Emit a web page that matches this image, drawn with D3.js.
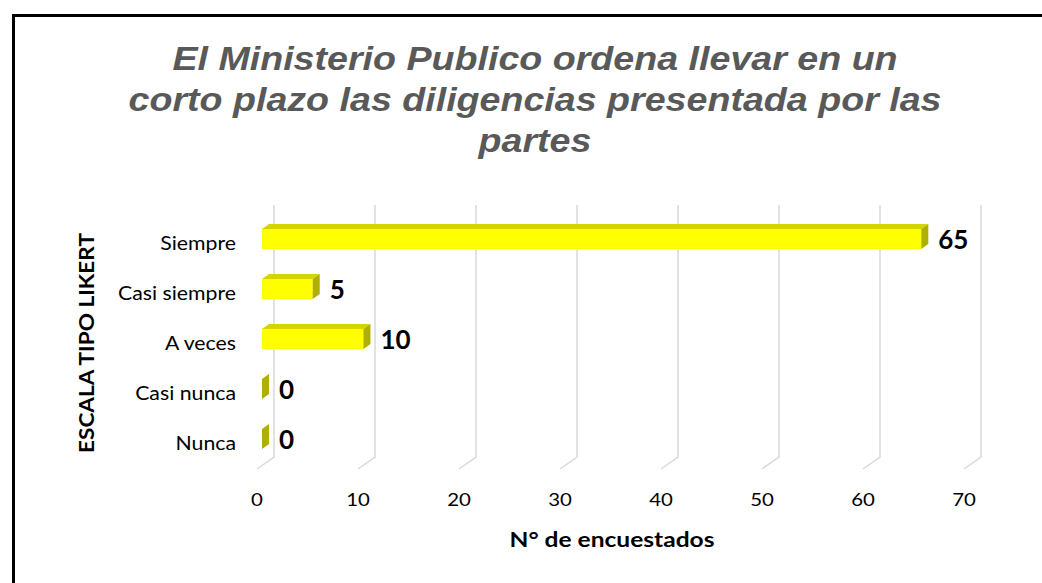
<!DOCTYPE html>
<html><head><meta charset="utf-8">
<script src="https://cdn.jsdelivr.net/npm/d3@7"></script>
<style>body{margin:0;background:#fff}svg{display:block}</style>
</head><body><svg id="c" width="1042" height="583"></svg>
<script>
const categories = ["Siempre","Casi siempre","A veces","Casi nunca","Nunca"];
const values = [65,5,10,0,0];
const ticks = [0,10,20,30,40,50,60,70];
const titleLines = ["El Ministerio Publico ordena llevar en un","corto plazo las diligencias presentada por las","partes"];
const yTitle = "ESCALA TIPO LIKERT";
const xTitle = "N° de encuestados";

const svg = d3.select("#c");
const F = "Lato, 'Open Sans', sans-serif";
// frame
svg.append("rect").attr("x",13.5).attr("y",15.5).attr("width",1040).attr("height",580)
  .attr("fill","#fff").attr("stroke","#000").attr("stroke-width",3);

// title
svg.append("g").selectAll("text").data(titleLines).join("text")
  .attr("transform",(d,i)=>`translate(535,${70+i*41}) scale(1.14,1)`).attr("text-anchor","middle")
  .attr("font-family","'Liberation Sans', Arial, sans-serif").attr("font-weight","bold")
  .attr("font-style","italic").attr("font-size",33).attr("fill","#595959").text(d=>d);

// scales
const xBack = d3.scaleLinear().domain([0,70]).range([274,981]);
const xBar = d3.scaleLinear().domain([0,70]).range([262,972]);
const y = d3.scaleBand().domain(categories).range([214,464]).paddingInner(0.6).paddingOuter(0.3);
const fdx = -17, fdy = 12, gTop = 205, gBot = 457;
const bdx = 7, bdy = -5;

// gridlines
const grid = svg.append("g").attr("fill","none").attr("stroke","#d9d9d9").attr("stroke-width",1.5);
grid.selectAll("path").data(ticks).join("path")
  .attr("d",d=>`M${xBack(d)},${gTop}L${xBack(d)},${gBot}L${xBack(d)+fdx},${gBot+fdy}`);

// tick labels
svg.append("g").selectAll("text").data(ticks).join("text")
  .attr("transform",d=>`translate(${xBack(d)+fdx},506) scale(1.2,1)`).attr("text-anchor","middle")
  .attr("font-family",F).attr("font-size",17).attr("fill","#000").text(d=>d);

// bars
const bars = svg.append("g").selectAll("g").data(categories).join("g");
bars.append("path").attr("fill","#d4d400")
  .attr("d",(c,i)=>{const x0=xBar(0),x1=xBar(values[i]),y0=y(c);
    return `M${x0},${y0}L${x1},${y0}L${x1+bdx},${y0+bdy}L${x0+bdx},${y0+bdy}Z`;});
bars.append("rect").attr("fill","#ffff00")
  .attr("x",xBar(0)).attr("y",c=>y(c)).attr("height",y.bandwidth())
  .attr("width",(c,i)=>xBar(values[i])-xBar(0));
bars.append("path").attr("fill","#afaf00")
  .attr("d",(c,i)=>{const x1=xBar(values[i]),y0=y(c),y1=y0+y.bandwidth();
    return `M${x1},${y0}L${x1+bdx},${y0+bdy}L${x1+bdx},${y1+bdy}L${x1},${y1}Z`;});
bars.append("text").attr("x",(c,i)=>xBar(values[i])+17).attr("y",c=>y(c)+y.bandwidth()/2+10)
  .attr("font-family",F).attr("font-weight","bold").attr("font-size",26).attr("fill","#000")
  .text((c,i)=>values[i]);

// category labels
svg.append("g").selectAll("text").data(categories).join("text")
  .attr("transform",c=>`translate(236,${y(c)+y.bandwidth()/2+11}) scale(1.12,1)`).attr("text-anchor","end")
  .attr("font-family",F).attr("font-size",19).attr("fill","#000").text(c=>c);

// axis titles
svg.append("text").attr("transform","translate(94,343) rotate(-90)").attr("text-anchor","middle")
  .attr("textLength",220).attr("lengthAdjust","spacingAndGlyphs")
  .attr("font-family",F).attr("font-weight","bold").attr("font-size",20).attr("fill","#000").text(yTitle);
svg.append("text").attr("x",612).attr("y",547).attr("text-anchor","middle")
  .attr("textLength",205).attr("lengthAdjust","spacingAndGlyphs")
  .attr("font-family",F).attr("font-weight","bold").attr("font-size",20).attr("fill","#000").text(xTitle);
</script></body></html>
